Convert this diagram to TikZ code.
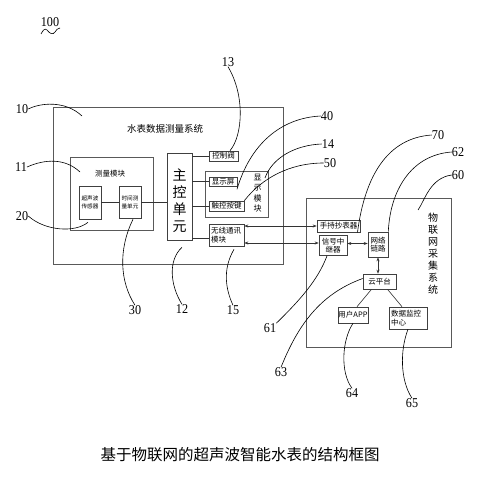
\documentclass[tikz,border=0pt]{standalone}
\usepackage{fontspec}
\setmainfont{Liberation Serif}
\newfontfamily\numfont[FakeStretch=0.9]{Liberation Serif}
\newfontfamily\cjk{Noto Sans CJK SC}
\usetikzlibrary{arrows.meta}
\begin{document}
\begin{tikzpicture}[x=1pt,y=-1pt,
  box/.style={draw=black!75, line width=0.6pt, inner sep=0pt, align=center, font=\cjk\fontsize{7.5}{8.5}\selectfont},
  tinybox/.style={box, font=\cjk\fontsize{5.6}{8}\selectfont},
  bigbox/.style={draw=black!65, line width=0.8pt, inner sep=0pt},
  plain/.style={inner sep=0pt, align=center},
  num/.style={font=\numfont\fontsize{13.5}{13.5}\selectfont, inner sep=0pt},
  lead/.style={line width=0.6pt},
  conn/.style={line width=0.6pt, draw=black!80},
  biarrow/.style={conn, {Stealth[length=4pt,width=3pt]}-{Stealth[length=4pt,width=3pt]}},
]
\useasboundingbox (0,0) rectangle (486,478);
\fill[white] (0,0) rectangle (486,478);

% ---------- water meter measurement system ----------
\node[bigbox, minimum width=230, minimum height=157] (sys) at (168,185.5) {};
\node[plain, font=\cjk\fontsize{9.5}{10}\selectfont] (systitle) at (165,129) {水表数据测量系统};

\node[bigbox, minimum width=83, minimum height=73] (meas) at (111.5,193.5) {};
\node[plain, font=\cjk\fontsize{7.5}{8}\selectfont] (meastitle) at (110,174) {测量模块};
\node[tinybox, minimum width=22, minimum height=33] (sensor) at (90,202.5) {超声波\\传感器};
\node[tinybox, minimum width=22, minimum height=32] (timer) at (130,202) {时间测\\量单元};

\node[box, minimum width=25, minimum height=87] (mcu) at (179.5,196.5) {};
\node[plain, font=\cjk\fontsize{14}{17}\selectfont] (mcutext) at (179.5,201) {主\\控\\单\\元};

\node[box, minimum width=29, minimum height=10] (valve) at (223.5,156) {控制阀};
\node[bigbox, minimum width=63, minimum height=46] (disp) at (236.5,194) {};
\node[plain, font=\cjk\fontsize{8}{10.5}\selectfont] (disptext) at (257.5,193) {显\\示\\模\\块};
\node[box, minimum width=28, minimum height=9] (screen) at (223,181.5) {显示屏};
\node[box, minimum width=35, minimum height=10] (touch) at (226.5,206) {触控按键};
\node[box, minimum width=35, minimum height=22, align=left, text width=31] (wireless) at (226.5,235) {无线通讯\\模块};

\draw[conn] (sensor.east |- timer) -- (timer.west);
\draw[conn] (timer.east) -- (timer.east -| mcu.west);
\draw[conn] (mcu.east |- valve) -- (valve.west);
\draw[conn] (mcu.east |- screen) -- (screen.west);
\draw[conn] (mcu.east |- touch) -- (touch.west);
\draw[conn] ([yshift=-3]mcu.east |- wireless) -- ([yshift=-3]wireless.west);

% ---------- IoT acquisition system ----------
\node[bigbox, minimum width=145, minimum height=149] (iot) at (378.5,272.5) {};
\node[plain, font=\cjk\fontsize{10}{12}\selectfont] (iottext) at (433,254) {物\\联\\网\\采\\集\\系\\统};
\node[box, minimum width=43, minimum height=12] (hand) at (338.5,226) {手持抄表器};
\node[box, minimum width=28, minimum height=20] (relay) at (333,245.5) {信号中\\继器};
\node[box, minimum width=20, minimum height=25] (net) at (378,244.5) {网络\\链路};
\node[box, minimum width=33, minimum height=15] (cloud) at (379.5,281.5) {云平台};
\node[box, minimum width=30, minimum height=16] (app) at (353,315) {用户APP};
\node[box, minimum width=38, minimum height=22, align=left, text width=34] (monitor) at (408,318) {数据监控\\中心};

\coordinate (rowA) at (0,226);
\coordinate (rowB) at (0,243);
\draw[biarrow] (wireless.east |- rowA) -- (hand.west |- rowA);
\draw[biarrow] (wireless.east |- rowB) -- (relay.west |- rowB);
\draw[biarrow] ([yshift=2]relay.east) -- ([yshift=2]relay.east -| net.west);
\draw[biarrow] (net.south) -- (net.south |- cloud.north);
\draw[conn] ([xshift=-8]cloud.south) -- ([xshift=4]app.north);
\draw[conn] ([xshift=8]cloud.south) -- ([xshift=-6]monitor.north);

% ---------- reference numerals ----------
\node[num] (l100) at (50,22) {100};
\draw[lead] (41,34) .. controls (43,30) and (45,28) .. (47,30) .. controls (50,34) and (53,35) .. (55,32) .. controls (56,30) and (58,28) .. (60,28);

\node[num] (l13) at (228,62) {13};
\node[num] (l10) at (22,109) {10};
\node[num] (l11) at (21,167) {11};
\node[num] (l20) at (22,216) {20};
\node[num] (l30) at (135,310) {30};
\node[num] (l12) at (182,309) {12};
\node[num] (l15) at (233,310) {15};
\node[num] (l40) at (327,116) {40};
\node[num] (l14) at (328,144) {14};
\node[num] (l50) at (330,163) {50};
\node[num] (l70) at (438,135) {70};
\node[num] (l62) at (458,152) {62};
\node[num] (l60) at (458,175) {60};
\node[num] (l61) at (270,328) {61};
\node[num] (l63) at (281,372) {63};
\node[num] (l64) at (352,393) {64};
\node[num] (l65) at (412,403) {65};

\draw[lead] (l13.south) .. controls (245,95) and (243,135) .. ([xshift=6.5]valve.north);
\draw[lead] (l10.east) .. controls (40,103) and (65,100) .. (82,116);
\draw[lead] (l11.east) .. controls (45,159) and (65,158) .. (80,172);
\draw[lead] (l20.east) .. controls (45,231) and (75,233) .. ([xshift=-2,yshift=-3]sensor.south);
\draw[lead] ([xshift=3,yshift=-1]timer.south) .. controls (118,250) and (120,282) .. (l30.north);
\draw[lead] ([xshift=2.5,yshift=-7]mcu.south) .. controls (168,260) and (170,285) .. (l12.north);
\draw[lead] ([xshift=7.5,yshift=-3]wireless.south) .. controls (222,270) and (226,290) .. (l15.north);
\draw[lead] (l40.west) .. controls (280,118) and (250,145) .. ([xshift=14,yshift=-3]screen.south);
\draw[lead] (l14.west) .. controls (295,145) and (272,158) .. (265,178);
\draw[lead] (l50.west) .. controls (290,163) and (262,178) .. (touch.north east);
\draw[lead] (l70.west) .. controls (388,138) and (365,175) .. ([xshift=19]hand.south);
\draw[lead] (l62.west) .. controls (410,155) and (390,192) .. (net.north east);
\draw[lead] (l60.west) .. controls (430,178) and (425,200) .. (418,210);
\draw[lead] (l61.north east) .. controls (300,300) and (318,280) .. ([xshift=-6]relay.south);
\draw[lead] (l63.north) .. controls (298,325) and (320,294) .. ([yshift=3]cloud.west);
\draw[lead] (app.south) .. controls (342,340) and (340,372) .. (l64.north);
\draw[lead] (monitor.south) .. controls (400,350) and (400,380) .. (l65.north);

% ---------- caption ----------
\node[plain, font=\cjk\fontsize{15.5}{16}\selectfont] (caption) at (240,455) {基于物联网的超声波智能水表的结构框图};
\end{tikzpicture}
\end{document}
